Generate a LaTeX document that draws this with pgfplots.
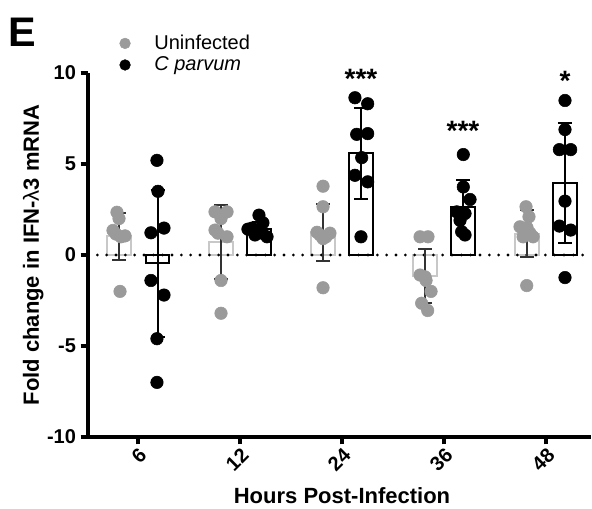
\documentclass[border=0pt]{standalone}
\usepackage{fontspec}
\setmainfont{Liberation Sans}
\usepackage{pgfplots}
\pgfplotsset{compat=1.18}
\definecolor{ptgray}{HTML}{9A9A9A}
\definecolor{bargray}{HTML}{C8C8C8}
\definecolor{errgray}{HTML}{333333}

\begin{document}
\begin{tikzpicture}
\useasboundingbox (0,0) rectangle (444pt,381pt);
\begin{axis}[
  at={(66pt,53.25pt)}, anchor=south west,
  scale only axis, width=377.25pt, height=273pt,
  xmin=-0.49, xmax=4.441, ymin=-10, ymax=10,
  clip=false,
  axis x line*=bottom, axis y line*=left,
  axis line style={-, line width=2.5pt},
  tick align=outside, major tick length=5.5pt,
  tick style={black, line width=2.5pt},
  xtick={0,1,2,3,4}, xticklabels={6,12,24,36,48},
  ytick={-10,-5,0,5,10},
  /pgf/number format/assume math mode=true,
  tick label style={font=\fontsize{15}{15}\selectfont\bfseries},
  xticklabel style={rotate=45, anchor=north east, inner sep=1pt},
  label style={font=\fontsize{16.5}{16.5}\selectfont\bfseries},
  xlabel={Hours Post-Infection},
  xlabel style={at={(rel axis cs:0.505,-0.162)}, anchor=center, inner sep=0pt},
  ylabel={Fold change in IFN-{\mdseries λ}3 mRNA},
  ylabel style={at={(rel axis cs:-0.109,0.5)}, anchor=center},
  legend style={draw=none, fill=none, inner sep=0pt,
    at={(axis description cs:0.062,1.112)}, anchor=north west,
    font=\fontsize{15}{15}\selectfont},
  legend cell align=left,
  legend image code/.code={\path[draw=none, fill=none] (-4pt,0) -- (20pt,0); \fill[#1] (0pt,0pt) circle (4pt);},
]
\addlegendimage{color=ptgray}
\addlegendentry{Uninfected}
\addlegendimage{color=black}
\addlegendentry{\textit{C parvum}}

% bars (means)
\addplot[forget plot, ybar, bar width=0.23, bar shift=0pt, draw=bargray, fill=white, line width=1.5pt]
  coordinates {(-0.186,1.03) (0.814,0.73) (1.814,1.25) (2.814,-1.17) (3.814,1.17)};
\addplot[forget plot, ybar, bar width=0.23, bar shift=0pt, draw=black, fill=white, line width=1.5pt]
  coordinates {(0.193,-0.46) (1.186,1.43) (2.186,5.6) (3.186,2.65) (4.186,3.95)};

% zero line
\addplot[forget plot, black, line width=2.3pt, line cap=round, dash pattern=on 0pt off 7pt]
  coordinates {(-0.49,0) (4.441,0)};

% uninfected points
\addplot[forget plot, only marks, mark=*, mark size=4.7pt, color=ptgray, mark options={draw=none, fill=ptgray}]
  coordinates {
  (-0.206,2.35) (-0.186,2.0) (-0.245,1.35) (-0.127,1.05) (-0.216,1.15) (-0.167,1.0) (-0.176,-2.0)
  (0.755,2.37) (0.873,2.37) (0.755,1.37) (0.873,1.0) (0.814,-1.4) (0.814,-3.2) (0.814,2.0) (0.784,1.2)
  (1.814,3.78) (1.814,2.65) (1.755,1.25) (1.882,1.2) (1.784,1.1) (1.843,1.0) (1.814,0.9) (1.814,-1.8)
  (2.765,1.0) (2.843,1.0) (2.765,-1.1) (2.814,-1.2) (2.873,-2.0) (2.781,-2.65) (2.840,-3.05) (2.824,-1.4)
  (3.804,2.65) (3.833,2.1) (3.745,1.55) (3.873,1.0) (3.775,1.0) (3.814,1.5) (3.843,1.2) (3.811,-1.68)
  };

% C parvum points
\addplot[forget plot, only marks, mark=*, mark size=4.7pt, color=black, mark options={draw=none, fill=black}]
  coordinates {
  (0.186,5.2) (0.196,3.5) (0.127,1.22) (0.255,1.48) (0.127,-1.4) (0.255,-2.2) (0.186,-4.6) (0.186,-7.0)
  (1.186,2.19) (1.118,1.48) (1.225,1.77) (1.167,1.28) (1.265,1.0) (1.078,1.42) (1.216,1.2) (1.147,1.1)
  (2.127,8.64) (2.252,8.31) (2.144,6.63) (2.252,6.67) (2.193,5.35) (2.127,4.38) (2.252,4.02) (2.186,1.0)
  (3.189,5.52) (3.189,3.74) (3.255,3.05) (3.125,2.37) (3.206,2.28) (3.173,1.28) (3.206,1.1) (3.157,1.9)
  (4.186,8.49) (4.186,6.89) (4.131,5.79) (4.242,5.79) (4.186,2.96) (4.131,1.59) (4.242,1.37) (4.186,-1.24)
  };

% error bars (SD)
\addplot[forget plot, draw=none, mark=none,
  error bars/.cd, y dir=both, y explicit, error mark=|,
  error bar style={draw=errgray, line width=1.6pt},
  error mark options={draw=errgray, line width=1.6pt, mark size=5.25pt}]
  coordinates {(-0.186,1.03) +- (0,1.3) (0.814,0.73) +- (0,2.03) (1.814,1.25) +- (0,1.57)
               (2.814,-1.17) +- (0,1.48) (3.814,1.17) +- (0,1.29)};
\addplot[forget plot, draw=none, mark=none,
  error bars/.cd, y dir=both, y explicit, error mark=|,
  error bar style={draw=black, line width=1.6pt},
  error mark options={draw=black, line width=1.6pt, mark size=5.25pt}]
  coordinates {(0.193,-0.46) +- (0,4.05) (1.186,1.43) +- (0,0.39) (2.186,5.6) +- (0,2.5)
               (3.186,2.65) +- (0,1.45) (4.186,3.95) +- (0,3.3)};

% significance
\node[anchor=base, font=\fontsize{21}{21}\selectfont\bfseries] at (axis cs:2.186,9.17) {***};
\node[anchor=base, font=\fontsize{21}{21}\selectfont\bfseries] at (axis cs:3.186,6.27) {***};
\node[anchor=base, font=\fontsize{21}{21}\selectfont\bfseries] at (axis cs:4.186,9.05) {*};

% panel letter
\node[font=\fontsize{31}{31}\selectfont\bfseries] at (rel axis cs:-0.131,1.112) {E};
\end{axis}
\end{tikzpicture}
\end{document}
